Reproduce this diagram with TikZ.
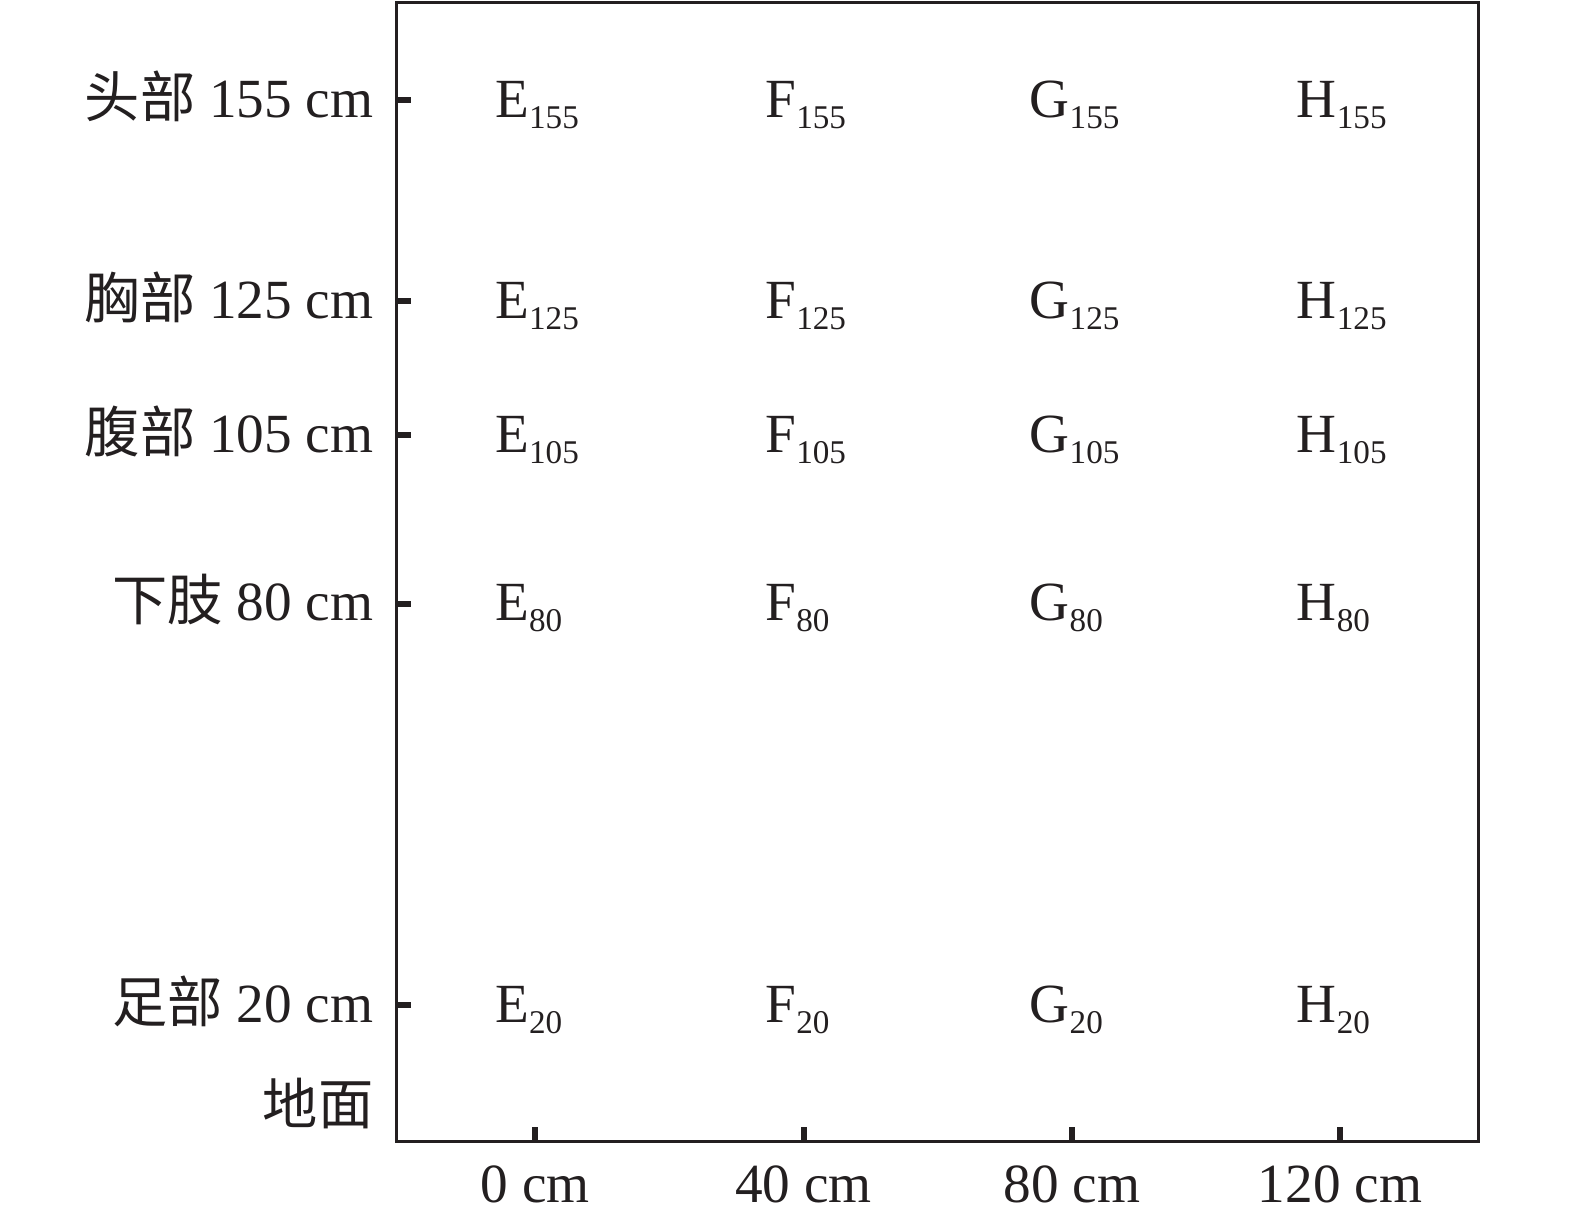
\documentclass[tikz,border=0pt]{standalone}
\usepackage{fontspec}
\setmainfont{Liberation Serif}
\newfontfamily\cjk{Noto Sans CJK SC}
\definecolor{ink}{HTML}{231F20}
\newcommand{\mysub}[1]{\raisebox{-0.2em}{\fontsize{33}{40}\selectfont #1}}
\begin{document}
\begin{tikzpicture}[x=1pt,y=-1pt,
  lab/.style={font=\fontsize{55}{66}\selectfont, text=ink, inner sep=0pt},
  cell/.style={lab, anchor=base west},
  ylab/.style={lab, anchor=base east},
  xlab/.style={lab, anchor=base},
  frame/.style={draw=ink, line width=3pt},
  tick/.style={draw=ink, line width=6pt}]
\useasboundingbox (0,0) rectangle (1568,1213);
% frame
\draw[frame] (395,2) rectangle (1472,1136);
% y ticks and labels
\foreach \yy/\lbl/\nm in {100/{\cjk 头部} 155 cm/a, 300/{\cjk 胸部} 125 cm/b, 433/{\cjk 腹部} 105 cm/c, 601/{\cjk 下肢} 80 cm/d, 1001/{\cjk 足部} 20 cm/e}{
  \draw[tick] (395,\yy) -- (409,\yy);
  \node[ylab] (y\nm) at (372,\yy+17) {\lbl};
}
\node[ylab] (yground) at (372,1119) {\cjk 地面};
% x ticks and labels
\foreach \xx/\lbl/\nm in {533/0 cm/a, 800/40 cm/b, 1067/80 cm/c, 1334/120 cm/d}{
  \draw[tick] (\xx,1136) -- (\xx,1122);
  \node[xlab] (x\nm) at (\xx,1197) {\lbl};
}
% cell labels
\foreach \col/\xx in {E/493, F/762, G/1025, H/1291}{
  \foreach \yy/\v in {100/155, 300/125, 433/105, 601/80, 1001/20}{
    \node[cell] (\col\v) at (\xx,\yy+17) {\col\mysub{\v}};
  }
}
\end{tikzpicture}
\end{document}
